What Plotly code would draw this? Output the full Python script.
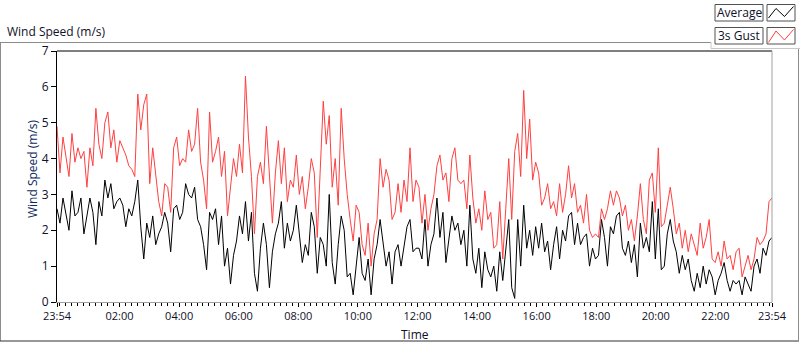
import plotly.graph_objects as go

# ---- data ----
tick_labels = ["23:54", "02:00", "04:00", "06:00", "08:00", "10:00", "12:00",
               "14:00", "16:00", "18:00", "20:00", "22:00", "23:54"]
tick_minutes = [0, 126, 246, 366, 486, 606, 726, 846, 966, 1086, 1206, 1326, 1440]

gust = [
    4.9, 3.6, 4.6, 4.0, 3.5, 4.7, 3.9, 4.3, 4.0, 4.2, 3.2, 4.3, 3.8, 5.4, 4.4, 4.0, 5.0, 5.3, 4.3, 4.8,
    3.9, 4.5, 4.3, 4.1, 3.8, 3.7, 3.5, 5.8, 4.8, 5.5, 5.8, 3.3, 4.3, 3.6, 2.8, 2.4, 3.3, 3.2, 2.5, 4.3,
    4.6, 3.8, 4.0, 3.9, 4.8, 4.2, 4.4, 5.4, 3.9, 3.4, 2.6, 5.3, 3.9, 4.2, 4.6, 3.5, 4.2, 2.4, 3.3, 4.0,
    3.5,
    4.4, 3.6, 6.3, 4.6, 3.5, 1.9, 3.5, 3.9, 3.3, 4.9, 3.4, 2.2, 3.6, 4.5, 3.3, 4.3, 2.8, 3.4, 3.2, 4.1,
    3.0, 3.5, 2.6, 3.2, 4.0, 3.6, 1.8, 3.5, 5.6, 4.4, 5.2, 3.2, 4.0, 2.7, 5.4, 4.0, 3.0, 2.3, 1.7, 2.7,
    2.5, 1.6, 1.3, 2.2, 1.0, 1.9, 2.3, 4.0, 3.2, 3.7, 3.4, 2.3, 2.5, 3.3, 2.5, 3.4, 2.8, 4.3, 2.8, 3.4,
    3.2, 2.2, 3.0, 2.0, 2.6, 3.0, 3.8, 4.1, 3.4, 3.6, 2.8, 4.0, 4.3, 3.4, 3.3, 3.4, 2.6, 4.1, 2.9, 2.2,
    2.6, 2.0, 3.1, 2.3, 2.5, 1.5, 1.6, 2.8, 1.2, 2.6, 4.0, 2.3, 4.2, 4.7, 3.5, 5.9, 4.0, 5.1, 3.4, 3.9,
    3.6, 2.7, 2.9, 3.3, 2.6, 2.8, 2.4, 3.3, 2.5, 3.0, 3.8, 2.9, 3.3, 2.5, 2.7, 2.2, 3.0, 2.0, 1.8, 1.9,
    1.8, 2.6, 2.3, 2.6, 3.1, 2.7, 3.1, 2.9, 2.4, 2.7, 2.0, 2.3, 1.7, 2.4, 3.3, 2.3, 1.9, 3.4, 3.6, 2.5,
    4.3, 2.1, 2.2, 2.7, 3.2, 2.6, 1.9, 2.2, 1.5, 2.0, 1.4, 1.9, 1.6, 1.3, 2.2, 1.5, 1.8, 2.3, 1.2, 1.1,
    1.4, 1.0, 1.7, 1.2, 1.3, 0.9, 1.4, 1.5, 0.7, 1.0, 1.3, 0.9, 1.2, 1.8, 1.6, 1.7, 1.9, 2.8, 2.9,
]

average = [
    2.6, 2.2, 2.9, 2.4, 2.0, 3.1, 2.4, 2.5, 2.9, 1.9, 2.4, 2.9, 2.5, 1.6, 2.8, 2.4, 3.4, 2.9, 3.3, 2.6,
    2.8, 2.9, 2.7, 2.1, 2.6, 2.4, 2.8, 3.4, 2.1, 1.2, 2.2, 1.8, 2.4, 1.6, 1.9, 2.1, 2.5, 2.2, 1.4, 2.6,
    2.7, 2.3, 2.5, 3.3, 3.0, 2.9, 3.2, 2.3, 2.1, 1.6, 0.9, 2.5, 2.3, 2.6, 1.6, 2.4, 1.0, 1.5, 0.5, 1.3,
    1.7,
    2.4, 1.9, 2.8, 1.7, 2.5, 0.8, 0.3, 1.5, 2.2, 1.6, 0.4, 1.4, 1.9, 2.2, 2.8, 1.5, 2.2, 1.7, 2.0, 2.7,
    1.8, 1.1, 1.6, 1.3, 2.5, 2.1, 0.8, 1.8, 1.6, 1.0, 3.0, 1.1, 0.5, 1.6, 2.4, 2.0, 0.7, 0.8, 0.2, 1.1,
    1.8, 0.8, 0.6, 1.2, 0.2, 1.2, 1.6, 2.3, 1.7, 1.0, 1.4, 0.5, 1.4, 1.6, 1.0, 1.6, 2.1, 2.3, 1.4, 1.5,
    1.5, 1.2, 2.3, 1.0, 1.6, 1.9, 2.9, 1.8, 2.5, 1.1, 1.7, 2.4, 2.0, 2.2, 1.6, 2.0, 1.0, 2.7, 1.2, 0.8,
    1.5, 0.4, 1.4, 0.9, 0.7, 1.0, 0.3, 1.4, 0.6, 1.5, 2.3, 0.4, 0.1, 2.3, 1.0, 2.7, 1.5, 2.0, 1.3, 2.1,
    1.5, 2.2, 1.4, 1.7, 0.9, 1.6, 2.1, 1.2, 2.0, 1.7, 2.4, 2.5, 1.6, 2.2, 1.6, 1.8, 1.9, 1.0, 1.5, 1.2,
    1.3, 2.3, 1.8, 1.0, 2.1, 1.9, 2.4, 2.5, 1.5, 1.3, 1.7, 1.1, 1.6, 0.7, 2.2, 1.5, 1.8, 1.4, 2.8, 1.2,
    2.6, 0.9, 1.0, 1.9, 2.3, 1.7, 1.4, 0.8, 1.3, 0.9, 1.2, 0.6, 0.3, 0.8, 0.4, 1.0, 0.5, 0.9, 0.7, 0.2,
    0.6, 0.8, 1.1, 0.6, 0.3, 0.6, 0.5, 0.6, 0.2, 0.7, 0.5, 0.3, 1.0, 1.2, 0.8, 1.5, 1.3, 1.7, 1.8,
]

series_names = ["Average", "3s Gust"]
span_minutes = 1440  # 23:54 -> 23:54 next day
n = len(gust)
minutes = [i * span_minutes / (n - 1) for i in range(n)]

# ---- layout geometry (pixels) ----
W, H = 800, 342
L, R, T, B = 57, 772, 51, 302
FONT = "Open Sans"
TXT = "#101028"


def px(x):
    return (x - L) / (R - L)


def py(y):
    return (B - y) / (B - T)


def line(x0, y0, x1, y1, color, width=1):
    return dict(type="line", xref="paper", yref="paper", x0=px(x0), y0=py(y0),
                x1=px(x1), y1=py(y1), line=dict(color=color, width=width), layer="above")


def rect(x0, y0, x1, y1, color):
    return dict(type="rect", xref="paper", yref="paper", x0=px(x0), y0=py(y0),
                x1=px(x1), y1=py(y1), line=dict(color=color, width=1), fillcolor="white",
                layer="above")


def path(points, color):
    d = "M " + " L ".join(f"{px(a):.5f},{py(b):.5f}" for a, b in points)
    return dict(type="path", xref="paper", yref="paper", path=d,
                line=dict(color=color, width=1), layer="above")


fig = go.Figure()
fig.add_trace(go.Scatter(x=minutes, y=average, mode="lines", name=series_names[0],
                         line=dict(color="#000000", width=1), showlegend=False))
fig.add_trace(go.Scatter(x=minutes, y=gust, mode="lines", name=series_names[1],
                         line=dict(color="#ff4040", width=1), showlegend=False))

shapes = [
    # outer frame
    line(0, 42.5, 711, 42.5, "#8c8c8c"),
    line(0.5, 42, 0.5, 341, "#8c8c8c"),
    line(0, 341, 799, 341, "#303030"),
    line(798.5, 48, 798.5, 341, "#8c8c8c"),
    line(711, 42, 711, 48.5, "#c8c8c8"),
    line(711, 48.5, 800, 48.5, "#c8c8c8"),
    # plot area borders
    line(L, T, R, T, "#000000"),
    line(R, T, R, B, "#a0a0a0"),
    # legend boxes
    rect(715, 4.5, 763, 21, "#505050"),
    rect(767, 4.5, 795, 21, "#505050"),
    rect(715, 27.5, 763, 44, "#505050"),
    rect(767, 27.5, 795, 44, "#505050"),
    path([(768.5, 18), (776, 8.5), (784.5, 16.5), (793.5, 6.5)], "#000000"),
    path([(768.5, 42.5), (776, 31), (784.5, 40), (793.5, 29.5)], "#ff4040"),
]

annotations = [
    dict(text="Wind Speed (m/s)", x=px(5), y=py(31), xref="paper", yref="paper",
         xanchor="left", yanchor="middle", showarrow=False,
         font=dict(family=FONT, size=12, color=TXT)),
    dict(text="Wind Speed (m/s)", x=px(32), y=py(168), xref="paper", yref="paper",
         xanchor="center", yanchor="middle", textangle=-90, showarrow=False,
         font=dict(family=FONT, size=12, color="#0c2a60")),
    dict(text="Time", x=px(415), y=py(334), xref="paper", yref="paper",
         xanchor="center", yanchor="middle", showarrow=False,
         font=dict(family=FONT, size=12, color=TXT)),
    dict(text=series_names[0], x=px(739), y=py(12.8), xref="paper", yref="paper",
         xanchor="center", yanchor="middle", showarrow=False,
         font=dict(family=FONT, size=12, color=TXT)),
    dict(text=series_names[1], x=px(739), y=py(35.8), xref="paper", yref="paper",
         xanchor="center", yanchor="middle", showarrow=False,
         font=dict(family=FONT, size=12, color=TXT)),
]

fig.update_layout(
    width=W, height=H,
    margin=dict(l=L, r=W - R, t=T, b=H - B, pad=0),
    paper_bgcolor="white", plot_bgcolor="white",
    font=dict(family=FONT, size=11, color=TXT),
    shapes=shapes, annotations=annotations, showlegend=False,
    xaxis=dict(range=[0, span_minutes], tickmode="array", tickvals=tick_minutes,
               ticktext=tick_labels, ticks="outside", ticklen=4, tickcolor="#000000",
               showline=True, linecolor="#a0a0a0", linewidth=1, showgrid=False,
               zeroline=False, fixedrange=True,
               tickfont=dict(family=FONT, size=11, color=TXT),
               minor=dict(tickmode="linear", tick0=6, dtick=12, ticks="outside",
                          ticklen=3, tickcolor="#000000", showgrid=False)),
    yaxis=dict(range=[0, 7], tickmode="linear", tick0=0, dtick=1, ticks="outside",
               ticklen=5, tickcolor="#000000", showline=True, linecolor="#000000",
               linewidth=1, showgrid=False, zeroline=False, fixedrange=True,
               tickfont=dict(family=FONT, size=12, color=TXT)),
)

fig.write_html(
    "out.html",
    config={"displayModeBar": False, "staticPlot": True},
    post_script="document.body.style.margin='0';document.body.style.overflow='hidden';",
)
